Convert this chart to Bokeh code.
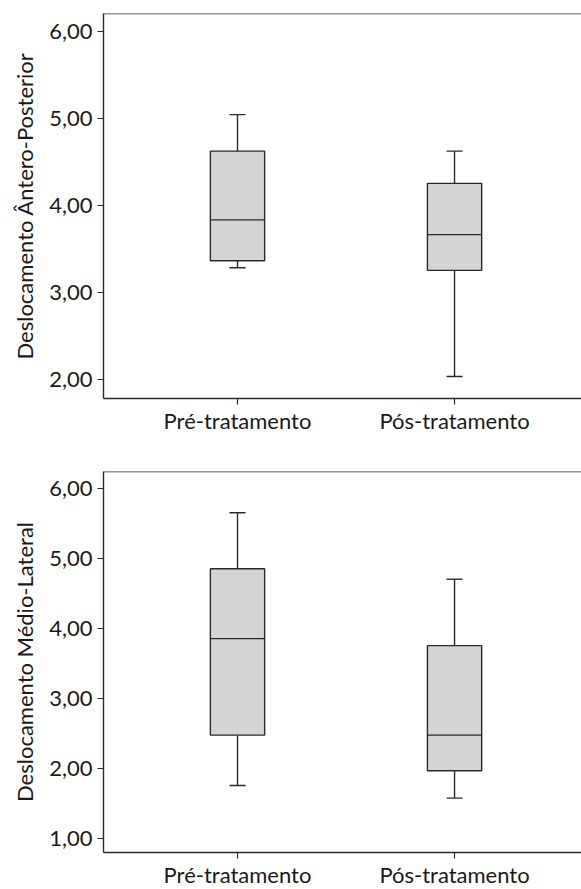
from bokeh.plotting import figure
from bokeh.layouts import column
from bokeh.models import Range1d, FixedTicker, Span
from bokeh.embed import file_html
from bokeh.resources import INLINE

categories = ["Pré-tratamento", "Pós-tratamento"]

# Top panel: Deslocamento Ântero-Posterior
ap_min = [3.28, 2.03]
ap_q1 = [3.36, 3.25]
ap_med = [3.83, 3.66]
ap_q3 = [4.62, 4.25]
ap_max = [5.04, 4.62]

# Bottom panel: Deslocamento Médio-Lateral
ml_min = [1.76, 1.58]
ml_q1 = [2.48, 1.97]
ml_med = [3.86, 2.48]
ml_q3 = [4.86, 3.76]
ml_max = [5.66, 4.71]

ap_ticks = [2, 3, 4, 5, 6]
ml_ticks = [1, 2, 3, 4, 5, 6]

FONT = "Lato"
INK = "#2a2a2a"
FILL = "#d3d4d6"


def make_panel(title, mn, q1, med, q3, mx, ticks, yr, border_top, border_bottom, fh):
    xs = list(range(len(categories)))
    p = figure(frame_width=478, frame_height=fh,
               x_range=Range1d(-0.6175, 1.585), y_range=Range1d(*yr),
               output_backend="svg", toolbar_location=None,
               min_border_left=103, min_border_right=0,
               min_border_top=border_top, min_border_bottom=border_bottom)
    p.grid.visible = False
    p.outline_line_color = None
    p.background_fill_color = "white"
    p.border_fill_color = "white"

    bw = 0.25
    cw = 0.037
    # whiskers
    p.segment(x0=xs, y0=q3, x1=xs, y1=mx, line_color=INK, line_width=1.4)
    p.segment(x0=xs, y0=q1, x1=xs, y1=mn, line_color=INK, line_width=1.4)
    p.segment(x0=[x - cw for x in xs], y0=mx, x1=[x + cw for x in xs], y1=mx,
              line_color=INK, line_width=1.4)
    p.segment(x0=[x - cw for x in xs], y0=mn, x1=[x + cw for x in xs], y1=mn,
              line_color=INK, line_width=1.4)
    # boxes
    p.vbar(x=xs, top=q3, bottom=q1, width=bw, fill_color=FILL,
           line_color=INK, line_width=1.4)
    p.segment(x0=[x - bw / 2 for x in xs], y0=med, x1=[x + bw / 2 for x in xs],
              y1=med, line_color=INK, line_width=1.4)

    # top frame line
    p.add_layout(Span(location=yr[1], dimension="width", line_color=INK,
                      line_width=1.4))

    p.xaxis.ticker = FixedTicker(ticks=xs)
    p.xaxis.major_label_overrides = {x: c for x, c in zip(xs, categories)}
    p.yaxis.ticker = FixedTicker(ticks=ticks)
    p.yaxis.major_label_overrides = {t: f"{t:.2f}".replace(".", ",") for t in ticks}
    p.yaxis.axis_label = title

    for ax in (p.xaxis[0], p.yaxis[0]):
        ax.axis_line_color = INK
        ax.axis_line_width = 1.4
        ax.major_tick_line_color = INK
        ax.major_tick_line_width = 1.2
        ax.major_tick_in = 0
        ax.major_tick_out = 6
        ax.minor_tick_line_color = None
        ax.major_label_text_font = FONT
        ax.major_label_text_color = "#1a1a1a"
        ax.axis_label_text_font = FONT
        ax.axis_label_text_font_style = "normal"
        ax.axis_label_text_color = "#1a1a1a"
    p.yaxis.major_label_text_font_size = "22px"
    p.xaxis.major_label_text_font_size = "22px"
    p.yaxis.axis_label_text_font_size = "22px"
    p.yaxis.major_label_standoff = 5
    p.yaxis.axis_label_standoff = 8
    p.xaxis.major_label_standoff = 2
    return p


p1 = make_panel("Deslocamento Ântero-Posterior", ap_min, ap_q1, ap_med, ap_q3, ap_max,
                ap_ticks, (1.777, 6.202), 13, 40, 385)
p2 = make_panel("Deslocamento Médio-Lateral", ml_min, ml_q1, ml_med, ml_q3, ml_max,
                ml_ticks, (0.802, 6.25), 33, 20, 381)

layout = column(p1, p2, spacing=0)
open("out.html", "w").write(file_html(layout, INLINE))
